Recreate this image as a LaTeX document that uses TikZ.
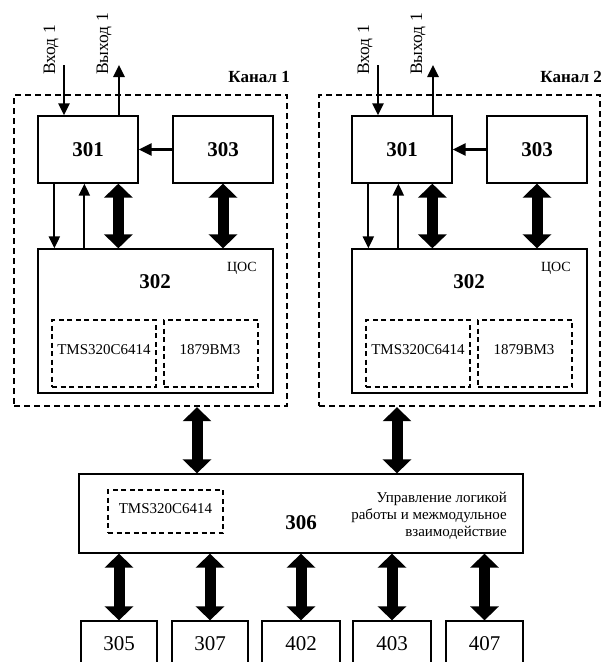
\documentclass[tikz,border=0pt]{standalone}
\usepackage{fontspec}
\setmainfont{Liberation Serif}
\usetikzlibrary{arrows.meta}
\begin{document}
\begin{tikzpicture}[x=1pt,y=-1pt,
  block/.style={draw, line width=1.3pt, inner sep=0pt},
  chanbox/.style={draw, line width=2.4pt, dash pattern=on 6pt off 4pt, inner sep=0pt},
  chipbox/.style={draw, line width=2pt, dash pattern=on 5pt off 3.5pt, inner sep=0pt},
  sig/.style={line width=2.2pt, -{Triangle[width=11pt,length=12pt]}},
  bus/.style={line width=11pt, {Triangle[width=28pt,length=14pt]}-{Triangle[width=28pt,length=14pt]}},
  num/.style={font=\fontsize{21}{24}\selectfont\bfseries, inner sep=0pt},
  vtext/.style={font=\fontsize{17.5}{20}\selectfont, rotate=90, inner sep=0pt},
  small/.style={font=\fontsize{15}{17}\selectfont, inner sep=0pt},
  chanlabel/.style={font=\fontsize{17}{20}\selectfont\bfseries, inner sep=0pt},
  unit/.style={block, minimum height=46pt, font=\fontsize{21}{24}\selectfont}
]
\useasboundingbox (0,0) rectangle (603,662);
\clip (0,0) rectangle (603,662);

% two identical signal-processing channels
\foreach \c/\dx/\bx/\bw/\lx in {1/0/150.5/273/290, 2/314/459.5/281/602}{
  \node[chanbox, minimum width=\bw pt, minimum height=311pt] (ch\c) at (\bx,250.5) {};
  \node[chanlabel, anchor=base east] (chl\c) at (\lx,82) {Канал \c};

  \node[block, minimum width=100pt, minimum height=67pt] (a301\c) at (88+\dx,149.5) {};
  \node[num] (n301\c) at (a301\c) {301};
  \node[block, minimum width=100pt, minimum height=67pt] (a303\c) at (223+\dx,149.5) {};
  \node[num] (n303\c) at (a303\c) {303};
  \node[block, minimum width=235pt, minimum height=144pt] (a302\c) at (155.5+\dx,321) {};
  \node[num, anchor=base] (n302\c) at (155+\dx,288) {302};
  \node[small, font=\fontsize{14}{16}\selectfont, anchor=base] (dsp\c) at (242+\dx,271) {ЦОС};

  \node[chipbox, minimum width=104pt, minimum height=67pt] (tms\c) at (104+\dx,353.5) {};
  \node[small, anchor=base] (tmsl\c) at (104+\dx,354) {TMS320C6414};
  \node[chipbox, minimum width=94pt, minimum height=67pt] (vm\c) at (211+\dx,353.5) {};
  \node[small, anchor=base] (vml\c) at (210+\dx,354) {1879ВМ3};

  % external input and output
  \coordinate (in\c) at (64+\dx,65);
  \coordinate (out\c) at (119+\dx,65);
  \node[vtext, anchor=base west] (inl\c) at (55+\dx,75) {Вход 1};
  \node[vtext, anchor=base west] (outl\c) at (108+\dx,75) {Выход 1};
  \draw[sig, line width=2.5pt] (in\c) -- (in\c |- a301\c.north);
  \draw[sig, line width=2.5pt] (out\c |- a301\c.north) -- (out\c);
  \draw[sig, line width=2.5pt, -{Triangle[width=12pt,length=13pt]}] (a303\c.west) -- (a301\c.east);

  % links between 301, 303 and 302
  \draw[sig] ([xshift=17pt]a301\c.south west) -- ([xshift=17pt]a302\c.north west);
  \draw[sig] ([xshift=47pt]a302\c.north west) -- ([xshift=47pt]a301\c.south west);
  \draw[bus] ([xshift=81pt]a301\c.south west) -- ([xshift=81pt]a302\c.north west);
  \draw[bus] (a303\c.south) -- (a303\c.south |- a302\c.north);
}

% logic control module
\node[block, minimum width=444pt, minimum height=79pt] (a306) at (301,513.5) {};
\node[chipbox, minimum width=115pt, minimum height=43pt] (tms306) at (165.5,511.5) {};
\node[small, anchor=base] (tmsl306) at (165.5,513) {TMS320C6414};
\node[num, anchor=base] (n306) at (301,529) {306};
\node[small, align=right, anchor=east] (d306) at (507,515.5)
  {Управление логикой\\работы и межмодульное\\взаимодействие};

\draw[bus] (197,0 |- ch1.south) -- (197,0 |- a306.north);
\draw[bus] (397,0 |- ch2.south) -- (397,0 |- a306.north);

% peripheral units
\foreach \n/\x/\w in {305/119/76, 307/210/76, 402/301/78, 403/392/78, 407/484.5/77}{
  \node[unit, minimum width=\w pt] (u\n) at (\x,644) {\n};
  \draw[bus] (u\n.north |- a306.south) -- (u\n.north);
}
\end{tikzpicture}
\end{document}
